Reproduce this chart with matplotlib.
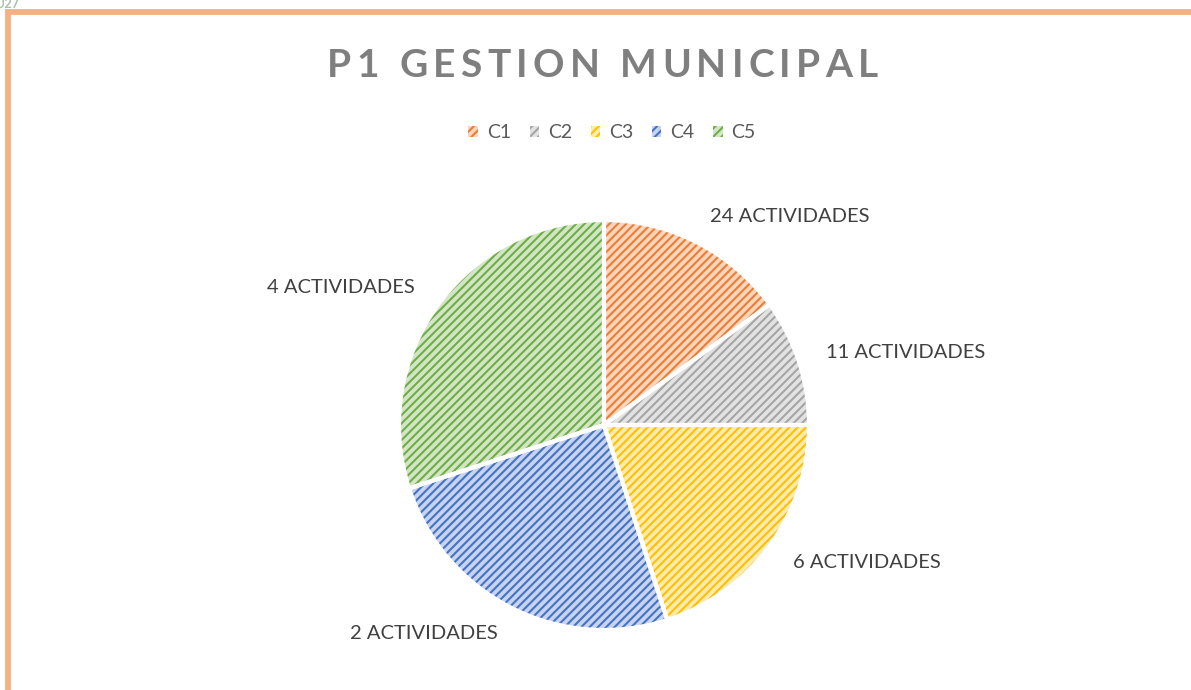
import matplotlib
matplotlib.use("Agg")
import matplotlib.pyplot as plt
from matplotlib.lines import Line2D
from matplotlib.patches import Patch

categories = ["C1", "C2", "C3", "C4", "C5"]
values = [15, 10, 20, 25, 30]
labels = ["24 ACTIVIDADES", "11 ACTIVIDADES", "6 ACTIVIDADES", "2 ACTIVIDADES", "4 ACTIVIDADES"]
title = "P1 GESTION MUNICIPAL"

base_colors = ["#ED7D31", "#A5A5A5", "#FFC000", "#4472C4", "#70AD47"]
light_colors = ["#FAD6BF", "#E2E2E2", "#FFEBB0", "#C7D4EF", "#D2E6C5"]

plt.rcParams['font.family'] = ['Lato', 'DejaVu Sans']
plt.rcParams['hatch.linewidth'] = 1.5

W, H = 1191, 690
fig = plt.figure(figsize=(W / 100, H / 100), dpi=100)
fig.patch.set_facecolor("white")

cx, cy, r = 604, 425, 205
ax = fig.add_axes([(cx - r) / W, (H - cy - r) / H, 2 * r / W, 2 * r / H])
ax.axis("off")

# base fill
ax.pie(values, colors=light_colors, startangle=90, counterclock=False,
       radius=1, wedgeprops=dict(linewidth=0))
# hatch overlay
wedges, _ = ax.pie(values, startangle=90, counterclock=False, radius=1,
                   wedgeprops=dict(linewidth=0, facecolor="none"))
for w, c in zip(wedges, base_colors):
    w.set_facecolor("none")
    w.set_edgecolor(c)
    w.set_hatch("////")
    w.set_linewidth(0)
# white borders + labels
wedges2, texts = ax.pie(values, labels=labels, startangle=90, counterclock=False,
                        radius=1, labeldistance=1.14,
                        wedgeprops=dict(linewidth=3, edgecolor="white", facecolor="none"),
                        textprops=dict(fontsize=14.5, color="#404040"))
for t in texts:
    t.set_clip_on(False)
ax.set_xlim(-1, 1)
ax.set_ylim(-1, 1)

# title with letter spacing
renderer = fig.canvas.get_renderer()
tkw = dict(fontsize=28, fontweight="bold", color="#7F7F7F", va="baseline", ha="left")
char_w = []
for ch in title:
    t = fig.text(0, 0, ch if ch != " " else "n", **tkw)
    bb = t.get_window_extent(renderer)
    char_w.append(bb.width * (0.45 if ch == " " else 1.0))
    t.remove()
x_left, x_right = 327, 878
total = sum(char_w)
gap = (x_right - x_left - total) / (len(title) - 1)
x = x_left
for ch, w in zip(title, char_w):
    if ch != " ":
        fig.text(x / W, 1 - 77 / H, ch, **tkw)
    x += w + gap

# legend
handles = [Patch(facecolor=lc, edgecolor=c, hatch="////", linewidth=0)
           for c, lc in zip(base_colors, light_colors)]
fig.legend(handles, categories, loc="center", bbox_to_anchor=(612 / W, 1 - 133 / H),
           ncol=5, frameon=False, fontsize=14, handlelength=0.5, handleheight=0.5,
           handletextpad=0.45, columnspacing=0.95, labelcolor="#595959")

# border lines
fig.add_artist(Line2D([5 / W, 1], [1 - 12.3 / H, 1 - 12.3 / H], color="#F4B183", linewidth=4.2,
                      transform=fig.transFigure, solid_capstyle="butt"))
fig.add_artist(Line2D([8 / W, 8 / W], [0, 1 - 9.5 / H], color="#F4B183", linewidth=4.2,
                      transform=fig.transFigure, solid_capstyle="butt"))
fig.text(20 / W, 1 - 8 / H, "2027", ha="right", va="baseline", fontsize=9,
         fontweight="bold", color="#A9C2A9")

fig.savefig("out.png", dpi=100, facecolor="white")
